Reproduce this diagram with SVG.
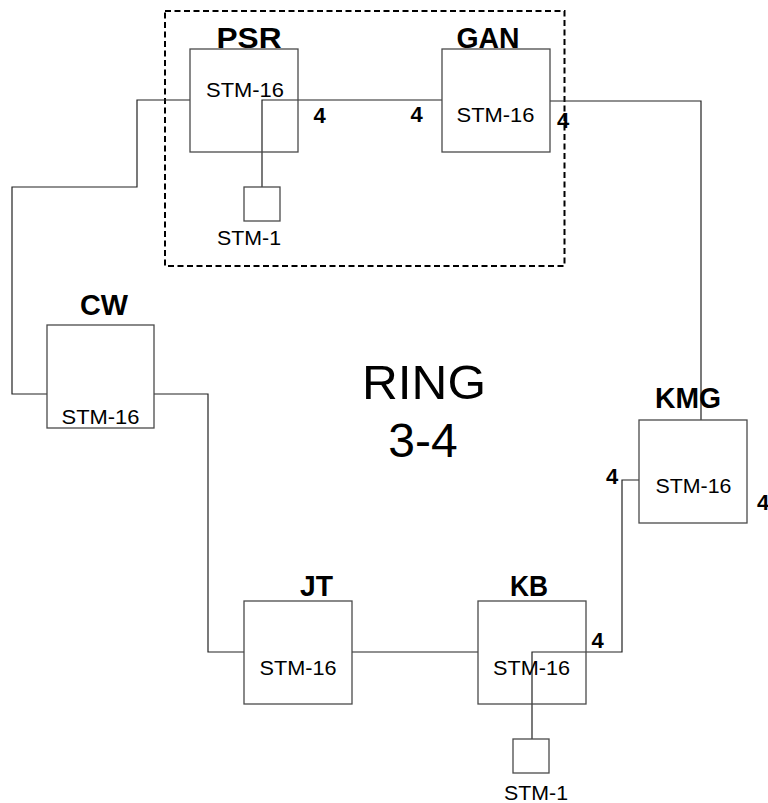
<svg xmlns="http://www.w3.org/2000/svg" width="768" height="803" viewBox="0 0 768 803">
<style>
text{font-family:"Liberation Sans",Arial,Helvetica,sans-serif;fill:#000;text-anchor:middle}
.box{fill:none;stroke:#4a4a4a;stroke-width:1.3}
.name{font-size:29px;font-weight:bold}
.stm{font-size:21px}
.num{font-size:22px;font-weight:bold}
.ring{font-size:48px}
.wire{fill:none;stroke:#222;stroke-width:1.2}
.group{fill:none;stroke:#000;stroke-width:2;stroke-dasharray:6 3.5}
</style>
<rect class="group" x="165" y="11" width="399.5" height="255"/>
<g id="connectors">
<polyline class="wire" points="190,100 137,100 137,187 12,187 12,394 47,394"/>
<polyline class="wire" points="262,187 262,100 442,100"/>
<polyline class="wire" points="550,101 701,101 701,420"/>
<polyline class="wire" points="154,394 208,394 208,652 244,652"/>
<polyline class="wire" points="352,652 478,652"/>
<polyline class="wire" points="532,739 532,652 622,652 622,480 639,480"/>
</g>
<g id="PSR">
<rect class="box" x="190" y="49" width="108" height="103"/>
<text class="name" x="249" y="48" textLength="65" lengthAdjust="spacingAndGlyphs">PSR</text>
<text class="stm" x="245" y="97" textLength="78" lengthAdjust="spacingAndGlyphs">STM-16</text>
</g>
<g id="PSR-STM1">
<rect class="box" x="244" y="187" width="36" height="34"/>
<text class="stm" x="249" y="245" textLength="64" lengthAdjust="spacingAndGlyphs">STM-1</text>
</g>
<g id="GAN">
<rect class="box" x="442" y="49" width="108" height="103"/>
<text class="name" x="488" y="48" textLength="63" lengthAdjust="spacingAndGlyphs">GAN</text>
<text class="stm" x="495.5" y="122" textLength="78" lengthAdjust="spacingAndGlyphs">STM-16</text>
</g>
<g id="CW">
<rect class="box" x="47" y="325" width="107" height="103"/>
<text class="name" x="104" y="315" textLength="48" lengthAdjust="spacingAndGlyphs">CW</text>
<text class="stm" x="100.5" y="424" textLength="78" lengthAdjust="spacingAndGlyphs">STM-16</text>
</g>
<g id="KMG">
<rect class="box" x="639" y="420" width="108" height="103"/>
<text class="name" x="688" y="408" textLength="66" lengthAdjust="spacingAndGlyphs">KMG</text>
<text class="stm" x="693.5" y="493" textLength="76" lengthAdjust="spacingAndGlyphs">STM-16</text>
</g>
<g id="JT">
<rect class="box" x="244" y="601" width="108" height="103"/>
<text class="name" x="316.5" y="596" textLength="33" lengthAdjust="spacingAndGlyphs">JT</text>
<text class="stm" x="298" y="675" textLength="77" lengthAdjust="spacingAndGlyphs">STM-16</text>
</g>
<g id="KB">
<rect class="box" x="478" y="601" width="108" height="103"/>
<text class="name" x="529" y="596" textLength="38" lengthAdjust="spacingAndGlyphs">KB</text>
<text class="stm" x="531.5" y="674.5" textLength="77" lengthAdjust="spacingAndGlyphs">STM-16</text>
</g>
<g id="KB-STM1">
<rect class="box" x="513" y="739" width="36" height="34"/>
<text class="stm" x="536" y="800" textLength="64" lengthAdjust="spacingAndGlyphs">STM-1</text>
</g>
<g id="port-labels">
<text class="num" x="319.5" y="122.5">4</text>
<text class="num" x="416.5" y="122">4</text>
<text class="num" x="563" y="128">4</text>
<text class="num" x="612" y="484">4</text>
<text class="num" x="763" y="510">4</text>
<text class="num" x="597.5" y="648">4</text>
</g>
<g id="title">
<text class="ring" x="424" y="399" textLength="124" lengthAdjust="spacingAndGlyphs">RING</text>
<text class="ring" x="423" y="457">3-4</text>
</g>
</svg>
